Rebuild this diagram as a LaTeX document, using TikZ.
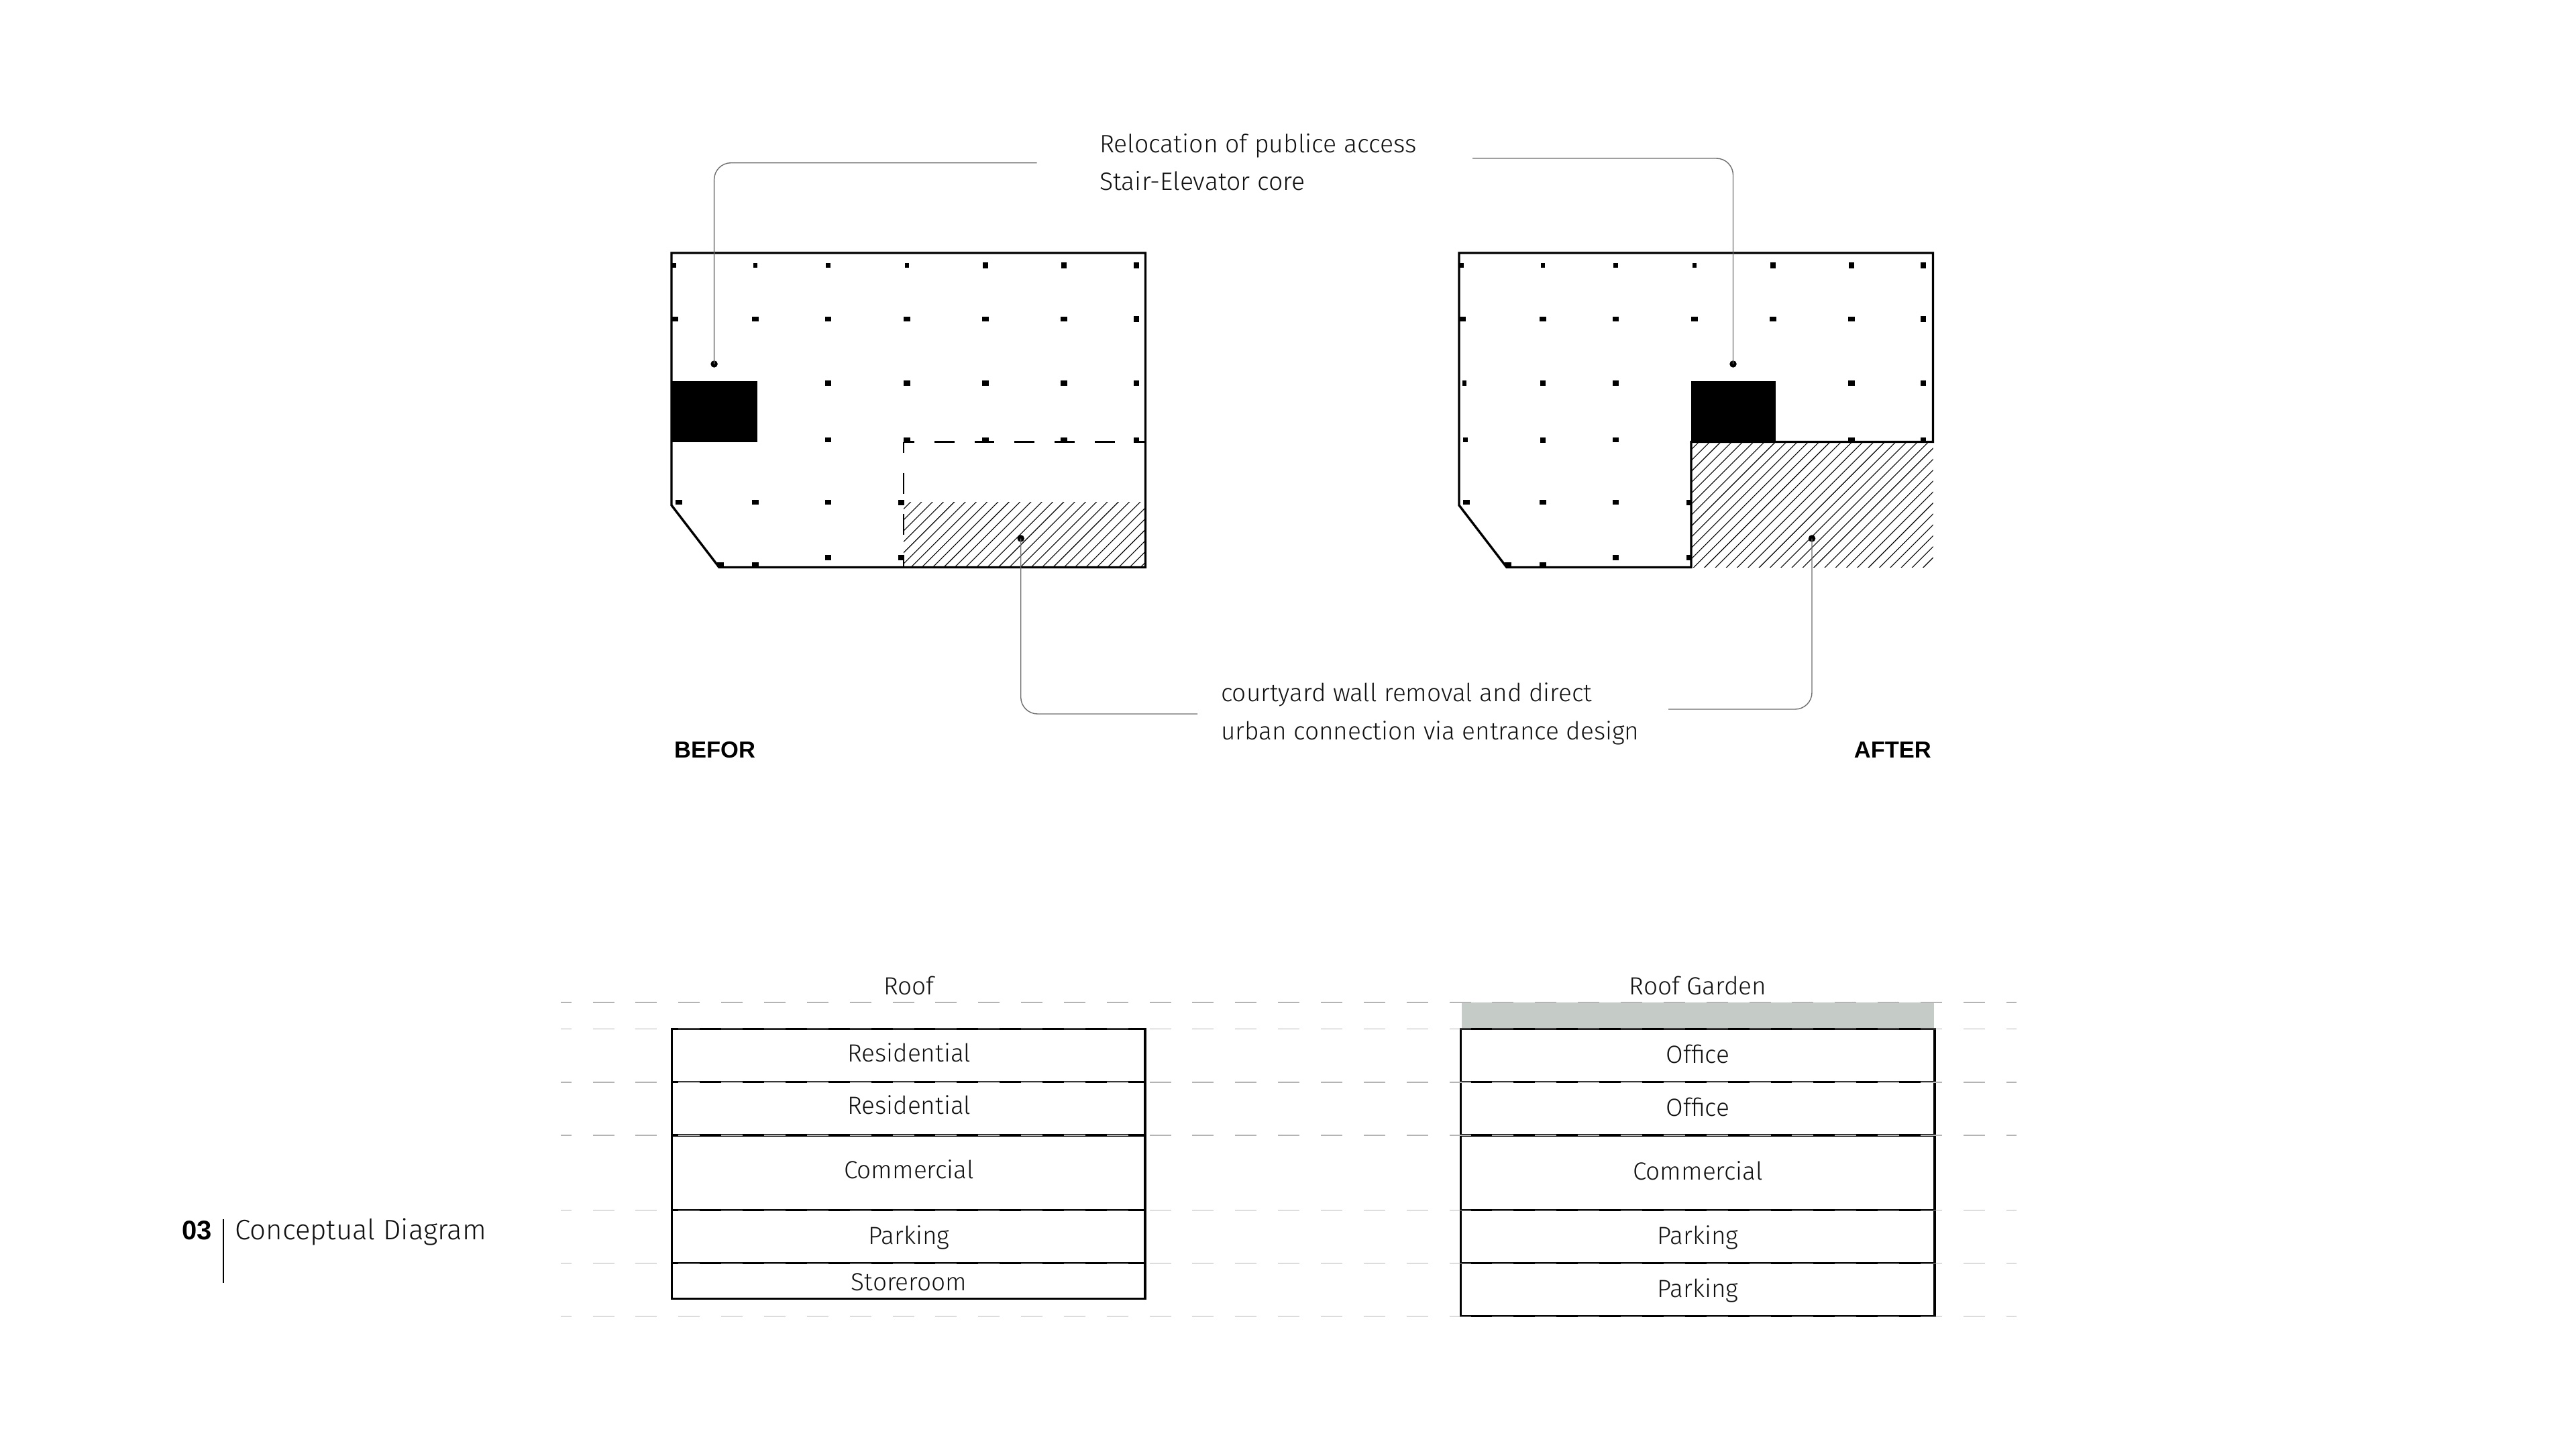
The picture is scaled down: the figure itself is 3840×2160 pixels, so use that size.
\documentclass[tikz,border=0pt]{standalone}
\usepackage{fontspec}
\setmainfont{Fira Sans Light}
\newfontfamily\heavyface{Liberation Sans Bold}
\definecolor{ink}{HTML}{111111}
\definecolor{railgrey}{HTML}{B4B4B4}
\definecolor{leadergrey}{HTML}{6E6E6E}
\definecolor{garden}{HTML}{C5CBC6}
\tikzset{
  planwall/.style={line width=3.4pt,line join=miter},
  dashwall/.style={line width=3.2pt},
  leader/.style={draw=leadergrey,line width=1.4pt,rounded corners=25pt},
  hatchline/.style={line width=1.1pt,black},
  rail/.style={draw=railgrey,line width=1.6pt,dash pattern=on 32pt off 31.85pt,dash phase=16pt},
  floorbox/.style={draw=black,line width=3.2pt},
  pin/.style={circle,fill=black,inner sep=0pt,minimum size=10.5pt},
  note/.style={anchor=base west,inner sep=0pt,text=ink,font=\fontsize{37}{40}\selectfont},
  floorlabel/.style={anchor=base,inner sep=0pt,text=ink,font=\fontsize{37}{40}\selectfont},
  heavy/.style={inner sep=0pt,text=black,font=\heavyface\fontsize{34.5}{40}\selectfont},
}
% column marker: centre x, y, width, height
\newcommand{\mk}[4]{\fill[black] ({#1-#3/2-.6},{#2-#4/2-.6}) rectangle ({#1+#3/2+.6},{#2+#4/2+.6});}
\begin{document}
\begin{tikzpicture}[x=1pt,y=-1pt]
\useasboundingbox (0,0) rectangle (3840,2160);
\fill[white] (0,0) rectangle (3840,2160);

%% ---------- BEFORE plan
\begin{scope}
  \clip (1347,748) rectangle (1707.5,845.5);
  \foreach \k in {-8,...,30} {\draw[hatchline] ({1375.8+\k*16.3},746) -- ({1375.8+\k*16.3-110},856);}
\end{scope}
\fill[black] (1000,567.6) rectangle (1129,659);
\draw[planwall] (1001,377) -- (1707.5,377) -- (1707.5,845.5) -- (1072,845.5) -- (1001,753) -- cycle;
\draw[dashwall,dash pattern=on 29.7pt off 30pt,dash phase=13.7pt] (1347,658.5) -- (1707.5,658.5);
\draw[line width=2.8pt,dash pattern=on 31pt off 30pt,dash phase=15pt] (1347,658.5) -- (1347,845.5);
\foreach \x in {1005,1126,1234.5,1352} {\mk{\x}{395.4}{5}{6}}
\foreach \x in {1469,1586,1694} {\mk{\x}{395.4}{6.6}{7.6}}
\foreach \x in {1006,1126,1234.5,1352,1469,1586} {\mk{\x}{475.7}{8.5}{6}}
\mk{1694}{475.7}{7}{7.6}
\foreach \x in {1234.5,1352,1469,1586} {\mk{\x}{571}{8.5}{6}}
\mk{1694}{571}{7}{7}
\foreach \x in {1234.5,1352,1469,1586} {\mk{\x}{655.8}{8.5}{6}}
\mk{1694}{655.8}{7}{7}
\foreach \x in {1012,1126,1234.5} {\mk{\x}{748.7}{8.5}{6}}
\mk{1343.5}{748.7}{7}{7}
\foreach \x in {1234.5,1343.5} {\mk{\x}{831}{7}{7}}
\foreach \x in {1074,1126} {\mk{\x}{841.4}{8.5}{6}}

%% ---------- AFTER plan
\begin{scope}
  \clip (2521,659) rectangle (2881.5,845.5);
  \foreach \k in {-14,...,36} {\draw[hatchline] ({2548.4+\k*16.3},659) -- ({2548.4+\k*16.3-200},859);}
\end{scope}
\fill[black] (2521,568) rectangle (2647,659);
\draw[planwall] (2175,377) -- (2881.5,377) -- (2881.5,658.5) -- (2521,658.5) -- (2521,845.5) -- (2246,845.5) -- (2175,753) -- cycle;
\foreach \x in {2179,2300,2408.5,2526} {\mk{\x}{395.4}{5}{6}}
\foreach \x in {2643,2760,2867} {\mk{\x}{395.4}{6.6}{7.6}}
\foreach \x in {2180,2300,2408.5,2526,2643,2760} {\mk{\x}{475.7}{8.5}{6}}
\mk{2867}{475.7}{7}{7.6}
\mk{2183}{571}{5}{6}
\mk{2300}{571}{7}{7}
\foreach \x in {2408.5,2760} {\mk{\x}{571}{8.5}{6}}
\mk{2867}{571}{7}{7}
\mk{2184.5}{655.8}{5}{6}
\mk{2300}{655.8}{7}{7}
\foreach \x in {2408.5,2760} {\mk{\x}{655.8}{8.5}{6}}
\mk{2867}{655.8}{7}{7}
\foreach \x in {2186,2300,2408.5} {\mk{\x}{748.7}{8.5}{6}}
\mk{2518}{748.7}{7}{7}
\foreach \x in {2408.5,2518} {\mk{\x}{831}{7}{7}}
\foreach \x in {2248,2300} {\mk{\x}{841.4}{8.5}{6}}

%% ---------- callouts
\node[pin] (coreA) at (1064.6,542.5) {};
\node[pin] (coreB) at (2583.5,542.5) {};
\node[pin] (yardA) at (1521.7,802.5) {};
\node[pin] (yardB) at (2701,802.5) {};
\coordinate (topL) at (1545.5,242.7);
\coordinate (topR) at (2195,236);
\coordinate (botL) at (1785,1064);
\coordinate (botR) at (2487,1057);
\draw[leader] (topL) -- (coreA.center |- topL) -- (coreA.center);
\draw[leader] (topR) -- (coreB.center |- topR) -- (coreB.center);
\draw[leader] (yardA.center) -- (yardA.center |- botL) -- (botL);
\draw[leader] (yardB.center) -- (yardB.center |- botR) -- (botR);

\node[note,font=\fontsize{37.4}{40}\selectfont] (n1) at (1639,227.2) {Relocation of publice access};
\node[note,font=\fontsize{37.4}{40}\selectfont] (n2) at (1639,283.5) {Stair-Elevator core};
\node[note] (n3) at (1820,1045.5) {courtyard wall removal and direct};
\node[note] (n4) at (1820,1102.7) {urban connection via entrance design};
\node[heavy,anchor=base west] (before) at (1005,1129.7) {BEFOR};
\node[heavy,anchor=base east] (after) at (2879,1129.7) {AFTER};

%% ---------- sections
\fill[garden] (2179,1494) rectangle (2883,1533);
\draw[floorbox] (1001.5,1533.6) rectangle (1707,1935.7);
\draw[floorbox] (1001.5,1612.7) -- (1707,1612.7);
\draw[floorbox] (1001.5,1692) -- (1707,1692);
\draw[floorbox] (1001.5,1803.6) -- (1707,1803.6);
\draw[floorbox] (1001.5,1882.5) -- (1707,1882.5);
\draw[floorbox] (2177.6,1533.6) rectangle (2884,1961.6);
\draw[floorbox] (2177.6,1612.7) -- (2884,1612.7);
\draw[floorbox] (2177.6,1692) -- (2884,1692);
\draw[floorbox] (2177.6,1803.6) -- (2884,1803.6);
\draw[floorbox] (2177.6,1882.5) -- (2884,1882.5);
\foreach \y in {1494,1533.6,1612.7,1692,1803.6,1882.5,1961.6} {\draw[rail] (835.7,\y) -- (3006,\y);}

\node[floorlabel] (l0) at (1355,1482) {Roof};
\node[floorlabel] (l1) at (1355,1582) {Residential};
\node[floorlabel] (l2) at (1355,1660.7) {Residential};
\node[floorlabel] (l3) at (1355,1756) {Commercial};
\node[floorlabel] (l4) at (1355,1854) {Parking};
\node[floorlabel] (l5) at (1355,1923.4) {Storeroom};
\node[floorlabel] (r0) at (2531,1482) {Roof Garden};
\node[floorlabel] (r1) at (2531,1584) {Office};
\node[floorlabel] (r2) at (2531,1663) {Office};
\node[floorlabel] (r3) at (2531,1758) {Commercial};
\node[floorlabel] (r4) at (2531,1854) {Parking};
\node[floorlabel] (r5) at (2531,1933) {Parking};

%% ---------- title
\node[heavy,anchor=base west,font=\heavyface\fontsize{40}{44}\selectfont] (num) at (271,1847) {03};
\coordinate (barTop) at (333,1816.5);
\coordinate (barBot) at (333,1911.7);
\draw[black,line width=2.4pt] (barTop) -- (barBot);
\node[note,font=\fontsize{42}{46}\selectfont] (title) at (350,1847) {Conceptual Diagram};
\end{tikzpicture}
\end{document}
